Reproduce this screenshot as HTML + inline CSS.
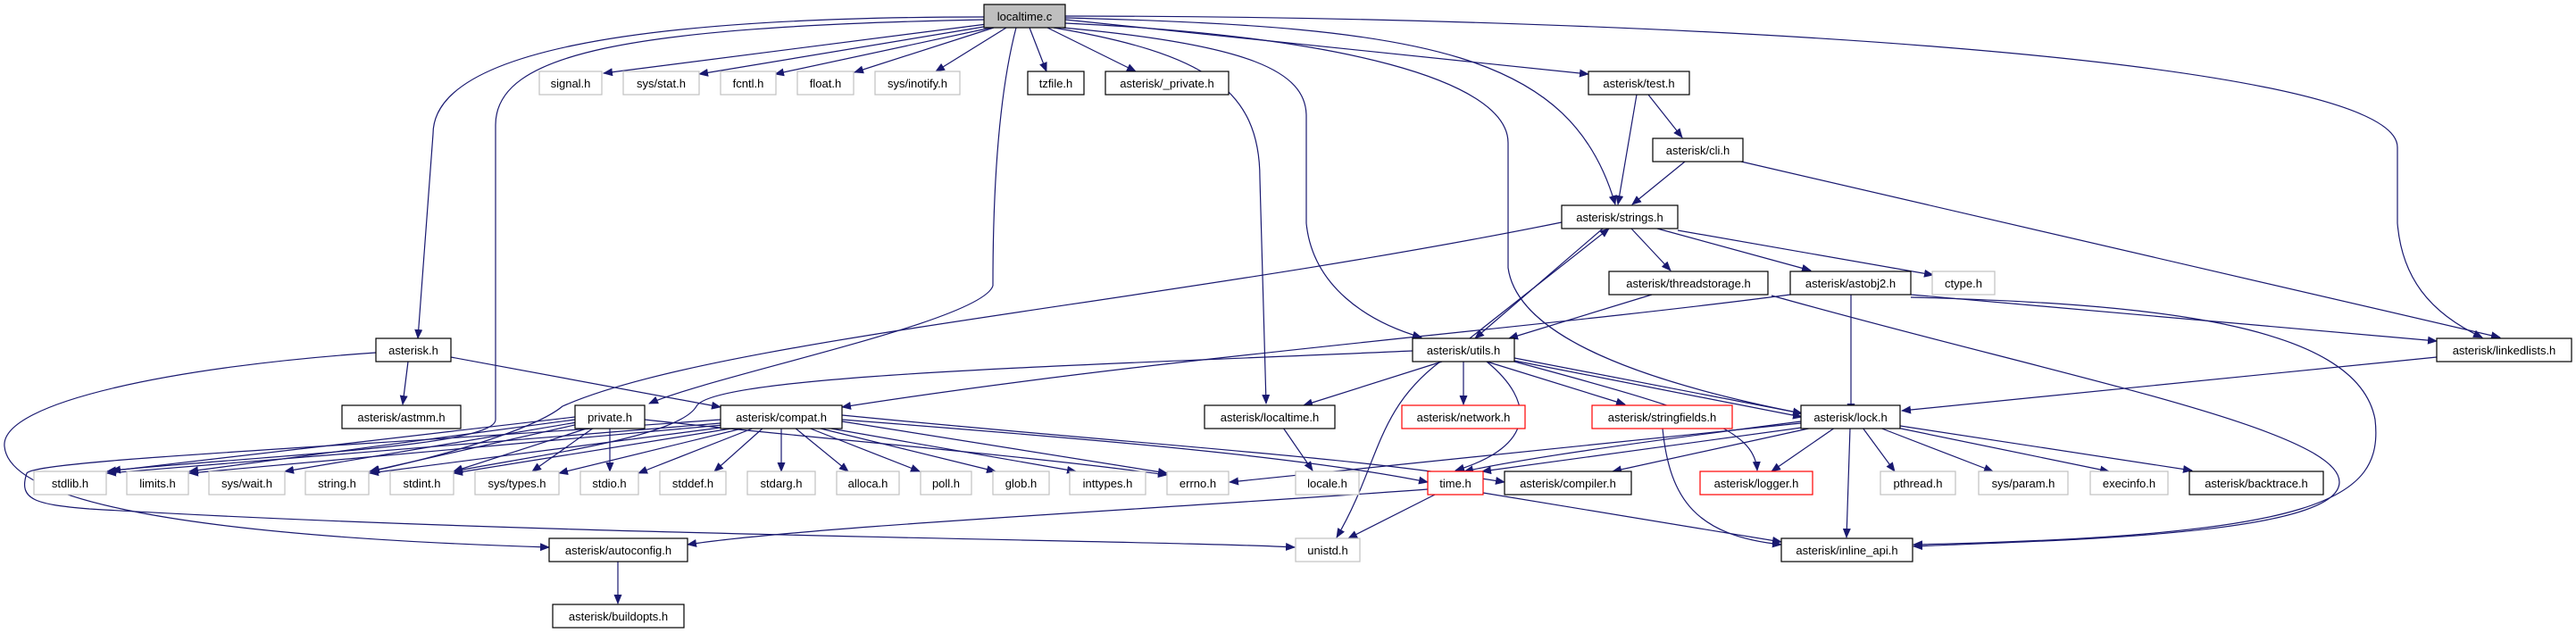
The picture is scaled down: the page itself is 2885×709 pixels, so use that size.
<!DOCTYPE html>
<html><head><meta charset="utf-8"><style>
html,body{margin:0;padding:0;background:#fff;}
svg{display:block;}
text{font-family:"Liberation Sans",sans-serif;font-size:13px;fill:#000;}
.e{fill:none;stroke:#191970;stroke-width:1.2;marker-end:url(#a);}
.b{fill:#fff;stroke:#000;stroke-width:1.2;}
.g{fill:#fff;stroke:#c0c0c0;stroke-width:1.2;}
.r{fill:#fff;stroke:#ff0000;stroke-width:1.2;}
.s{fill:#555;}
</style></head><body>
<svg width="2885" height="709" viewBox="0 0 2885 709" xmlns="http://www.w3.org/2000/svg">
<defs><marker id="a" markerWidth="11" markerHeight="9" refX="10" refY="4.5" orient="auto" markerUnits="userSpaceOnUse"><path d="M0,0 L11,4.5 L0,9 z" fill="#191970"/></marker>
<marker id="as" markerWidth="11" markerHeight="9" refX="1" refY="4.5" orient="auto" markerUnits="userSpaceOnUse"><path d="M11,0 L0,4.5 L11,9 z" fill="#191970"/></marker></defs>

<!-- edges from localtime.c -->
<path class="e" d="M1102,19 C700,19 485,60 485,150 L468,379"/>
<path class="e" d="M1102,22 C700,30 555,60 555,140 L555,470 C555,500 300,510 125,527"/>
<path class="e" d="M1105,27 L676,82"/>
<path class="e" d="M1108,29 L783,83"/>
<path class="e" d="M1110,31 L868,83"/>
<path class="e" d="M1113,31 L957,81"/>
<path class="e" d="M1127,31 L1048,80"/>
<path class="e" d="M1153,31 L1172,80"/>
<path class="e" d="M1173,31 L1272,80"/>
<path class="e" d="M1138,31 C1120,100 1112,200 1112,320 C1100,360 800,420 727,452"/>
<path class="e" d="M1180,31 C1350,60 1411,100 1411,200 L1418,452"/>
<path class="e" d="M1193,20 C1600,30 1760,60 1809,229"/>
<path class="e" d="M1193,22 L1779,83"/>
<path class="e" d="M1190,31 C1400,50 1463,80 1463,130 L1463,250 C1470,320 1530,360 1592,378"/>
<path class="e" d="M1193,26 C1500,40 1689,90 1689,160 L1689,300 C1700,380 1850,430 2018,463"/>
<path class="e" d="M1193,18 C1800,18 2685,60 2685,165 L2685,250 C2690,310 2720,350 2780,378"/>
<!-- strings area -->
<path class="e" d="M1833,106 L1812,229"/>
<path class="e" d="M1846,106 L1884,154"/>
<path class="e" d="M1887,181 L1828,229"/>
<path class="e" d="M1950,181 L2800,378"/>
<path class="e" d="M1749,249 C1300,340 800,380 630,455 C600,480 500,510 415,528"/>
<path class="e" d="M1646,379 L1802,256"/>
<path class="e" d="M1795,256 L1652,379"/>
<path class="e" d="M1827,256 L1871,303"/>
<path class="e" d="M1856,256 L2028,303"/>
<path class="e" d="M1879,258 L2165,308"/>
<path class="e" d="M1850,330 L1690,379"/>
<path class="e" d="M1984,331 C2300,420 2620,480 2620,540 C2620,600 2300,605 2143,612"/>
<path class="e" d="M2073,330 L2073,462"/>
<path class="e" d="M2140,330 L2729,382"/>
<path class="e" d="M2140,333 C2400,340 2640,360 2660,470 C2670,560 2600,600 2143,610"/>
<path class="e" d="M2005,330 C1700,370 1300,400 943,456"/>
<!-- utils -->
<path class="e" d="M1582,393 C1200,410 800,420 780,455 C760,490 600,510 508,528"/>
<path class="e" d="M1615,405 L1460,454"/>
<path class="e" d="M1639,405 L1639,453"/>
<path class="e" d="M1665,405 L1820,453"/>
<path class="e" d="M1696,401 L2018,463"/>
<path class="e" d="M1696,404 L2018,467"/>
<path class="e" d="M1665,405 C1720,450 1720,500 1630,527"/>
<path class="e" d="M1613,405 C1540,460 1545,520 1497,602"/>
<path class="e" d="M1696,405 C1900,460 1965,480 1968,527"/>
<path class="e" d="M2729,400 L2130,460"/>
<!-- lock -->
<path class="e" d="M2017,474 L1377,540"/>
<path class="e" d="M2025,478 L1660,528"/>
<path class="e" d="M2017,472 C1800,500 1700,515 1640,528"/>
<path class="e" d="M2030,479 L1806,528"/>
<path class="e" d="M2055,479 L1984,528"/>
<path class="e" d="M2072,479 L2068,602"/>
<path class="e" d="M2086,479 L2122,528"/>
<path class="e" d="M2105,479 L2232,528"/>
<path class="e" d="M2124,479 L2362,528"/>
<path class="e" d="M2128,477 L2455,527"/>
<path class="e" d="M1862,480 C1870,560 1900,600 1995,610"/>
<path class="e" d="M1599,548 C1300,570 900,590 770,610"/>
<path class="e" d="M1607,554 L1510,603"/>
<path class="e" d="M1661,552 L1995,607"/>
<path class="e" d="M1437,479 L1470,527"/>
<!-- asterisk.h -->
<path class="e" d="M457,405 L451,453"/>
<path class="e" d="M505,400 L807,456"/>
<path class="e" d="M421,395 C200,410 0,450 5,500 C10,560 200,600 615,613"/>
<path class="e" d="M692,628 L692,676"/>
<!-- compat -->
<path class="e" d="M807,470 C400,500 40,515 30,530 C20,560 40,565 100,570 C600,600 1300,605 1450,613"/>
<path class="e" d="M943,470 C1200,490 1450,510 1599,540"/>
<path class="e" d="M943,472 L1307,530"/>
<path class="e" d="M807,474 L120,530"/>
<path class="e" d="M810,476 L212,530"/>
<path class="e" d="M815,478 L414,530"/>
<path class="e" d="M825,479 L508,530"/>
<path class="e" d="M835,479 L626,530"/>
<path class="e" d="M845,479 L715,530"/>
<path class="e" d="M855,479 L800,528"/>
<path class="e" d="M875,479 L875,528"/>
<path class="e" d="M890,479 L950,528"/>
<path class="e" d="M905,479 L1030,528"/>
<path class="e" d="M915,479 L1115,528"/>
<path class="e" d="M925,479 L1205,528"/>
<path class="e" d="M943,465 C1300,500 1500,510 1685,540"/>
<!-- private -->
<path class="e" d="M644,467 L120,528"/>
<path class="e" d="M644,470 L212,528"/>
<path class="e" d="M646,473 L319,528"/>
<path class="e" d="M648,475 L414,528"/>
<path class="e" d="M660,479 L508,528"/>
<path class="e" d="M665,479 L596,528"/>
<path class="e" d="M683,479 L683,528"/>
<path class="e" d="M722,470 C900,490 1150,510 1307,532"/>

<!-- nodes -->
<rect x="1102" y="5" width="91" height="26" fill="#bfbfbf" stroke="#000" stroke-width="1.2"/><text x="1147.5" y="23" text-anchor="middle">localtime.c</text>
<g>
<rect class="g" x="604" y="80" width="70" height="26"/><text x="639" y="98" text-anchor="middle">signal.h</text>
<rect class="g" x="698" y="80" width="85" height="26"/><text x="740.5" y="98" text-anchor="middle">sys/stat.h</text>
<rect class="g" x="807" y="80" width="62" height="26"/><text x="838" y="98" text-anchor="middle">fcntl.h</text>
<rect class="g" x="893" y="80" width="63" height="26"/><text x="924.5" y="98" text-anchor="middle">float.h</text>
<rect class="g" x="980" y="80" width="95" height="26"/><text x="1027.5" y="98" text-anchor="middle">sys/inotify.h</text>
<rect class="b" x="1151" y="80" width="63" height="26"/><text x="1182.5" y="98" text-anchor="middle">tzfile.h</text>
<rect class="b" x="1238" y="80" width="138" height="26"/><text x="1307" y="98" text-anchor="middle">asterisk/_private.h</text>
<rect class="b" x="1779" y="80" width="113" height="26"/><text x="1835.5" y="98" text-anchor="middle">asterisk/test.h</text>
<rect class="b" x="1851" y="155" width="101" height="26"/><text x="1901.5" y="173" text-anchor="middle">asterisk/cli.h</text>
<rect class="b" x="1749" y="230" width="130" height="26"/><text x="1814" y="248" text-anchor="middle">asterisk/strings.h</text>
<rect class="b" x="1802" y="304" width="178" height="26"/><text x="1891" y="322" text-anchor="middle">asterisk/threadstorage.h</text>
<rect class="b" x="2005" y="304" width="135" height="26"/><text x="2072.5" y="322" text-anchor="middle">asterisk/astobj2.h</text>
<rect class="g" x="2164" y="304" width="70" height="26"/><text x="2199" y="322" text-anchor="middle">ctype.h</text>
<rect class="b" x="421" y="379" width="84" height="26"/><text x="463" y="397" text-anchor="middle">asterisk.h</text>
<rect class="b" x="1582" y="379" width="114" height="26"/><text x="1639" y="397" text-anchor="middle">asterisk/utils.h</text>
<rect class="b" x="2729" y="379" width="151" height="26"/><text x="2804.5" y="397" text-anchor="middle">asterisk/linkedlists.h</text>
<rect class="b" x="383" y="454" width="133" height="26"/><text x="449.5" y="472" text-anchor="middle">asterisk/astmm.h</text>
<rect class="b" x="644" y="454" width="78" height="26"/><text x="683" y="472" text-anchor="middle">private.h</text>
<rect class="b" x="807" y="454" width="136" height="26"/><text x="875" y="472" text-anchor="middle">asterisk/compat.h</text>
<rect class="b" x="1349" y="454" width="146" height="26"/><text x="1422" y="472" text-anchor="middle">asterisk/localtime.h</text>
<rect class="r" x="1570" y="454" width="138" height="26"/><text x="1639" y="472" text-anchor="middle">asterisk/network.h</text>
<rect class="r" x="1783" y="454" width="157" height="26"/><text x="1861.5" y="472" text-anchor="middle">asterisk/stringfields.h</text>
<rect class="b" x="2017" y="454" width="111" height="26"/><text x="2072.5" y="472" text-anchor="middle">asterisk/lock.h</text>
<rect class="g" x="38" y="528" width="81" height="26"/><text x="78.5" y="546" text-anchor="middle">stdlib.h</text>
<rect class="g" x="142" y="528" width="69" height="26"/><text x="176.5" y="546" text-anchor="middle">limits.h</text>
<rect class="g" x="234" y="528" width="85" height="26"/><text x="276.5" y="546" text-anchor="middle">sys/wait.h</text>
<rect class="g" x="342" y="528" width="71" height="26"/><text x="377.5" y="546" text-anchor="middle">string.h</text>
<rect class="g" x="437" y="528" width="71" height="26"/><text x="472.5" y="546" text-anchor="middle">stdint.h</text>
<rect class="g" x="532" y="528" width="94" height="26"/><text x="579" y="546" text-anchor="middle">sys/types.h</text>
<rect class="g" x="650" y="528" width="65" height="26"/><text x="682.5" y="546" text-anchor="middle">stdio.h</text>
<rect class="g" x="739" y="528" width="74" height="26"/><text x="776" y="546" text-anchor="middle">stddef.h</text>
<rect class="g" x="837" y="528" width="76" height="26"/><text x="875" y="546" text-anchor="middle">stdarg.h</text>
<rect class="g" x="937" y="528" width="70" height="26"/><text x="972" y="546" text-anchor="middle">alloca.h</text>
<rect class="g" x="1031" y="528" width="57" height="26"/><text x="1059.5" y="546" text-anchor="middle">poll.h</text>
<rect class="g" x="1112" y="528" width="63" height="26"/><text x="1143.5" y="546" text-anchor="middle">glob.h</text>
<rect class="g" x="1198" y="528" width="85" height="26"/><text x="1240.5" y="546" text-anchor="middle">inttypes.h</text>
<rect class="g" x="1307" y="528" width="69" height="26"/><text x="1341.5" y="546" text-anchor="middle">errno.h</text>
<rect class="g" x="1451" y="528" width="71" height="26"/><text x="1486.5" y="546" text-anchor="middle">locale.h</text>
<rect class="r" x="1599" y="528" width="62" height="26"/><text x="1630" y="546" text-anchor="middle">time.h</text>
<rect class="b" x="1685" y="528" width="142" height="26"/><text x="1756" y="546" text-anchor="middle">asterisk/compiler.h</text>
<rect class="r" x="1904" y="528" width="126" height="26"/><text x="1967" y="546" text-anchor="middle">asterisk/logger.h</text>
<rect class="g" x="2106" y="528" width="84" height="26"/><text x="2148" y="546" text-anchor="middle">pthread.h</text>
<rect class="g" x="2216" y="528" width="100" height="26"/><text x="2266" y="546" text-anchor="middle">sys/param.h</text>
<rect class="g" x="2341" y="528" width="87" height="26"/><text x="2384.5" y="546" text-anchor="middle">execinfo.h</text>
<rect class="b" x="2452" y="528" width="150" height="26"/><text x="2527" y="546" text-anchor="middle">asterisk/backtrace.h</text>
<rect class="b" x="615" y="603" width="155" height="26"/><text x="692.5" y="621" text-anchor="middle">asterisk/autoconfig.h</text>
<rect class="g" x="1451" y="603" width="72" height="26"/><text x="1487" y="621" text-anchor="middle">unistd.h</text>
<rect class="b" x="1995" y="603" width="147" height="26"/><text x="2068.5" y="621" text-anchor="middle">asterisk/inline_api.h</text>
<rect class="b" x="619" y="677" width="147" height="26"/><text x="692.5" y="695" text-anchor="middle">asterisk/buildopts.h</text>
</g>
</svg>
</body></html>
